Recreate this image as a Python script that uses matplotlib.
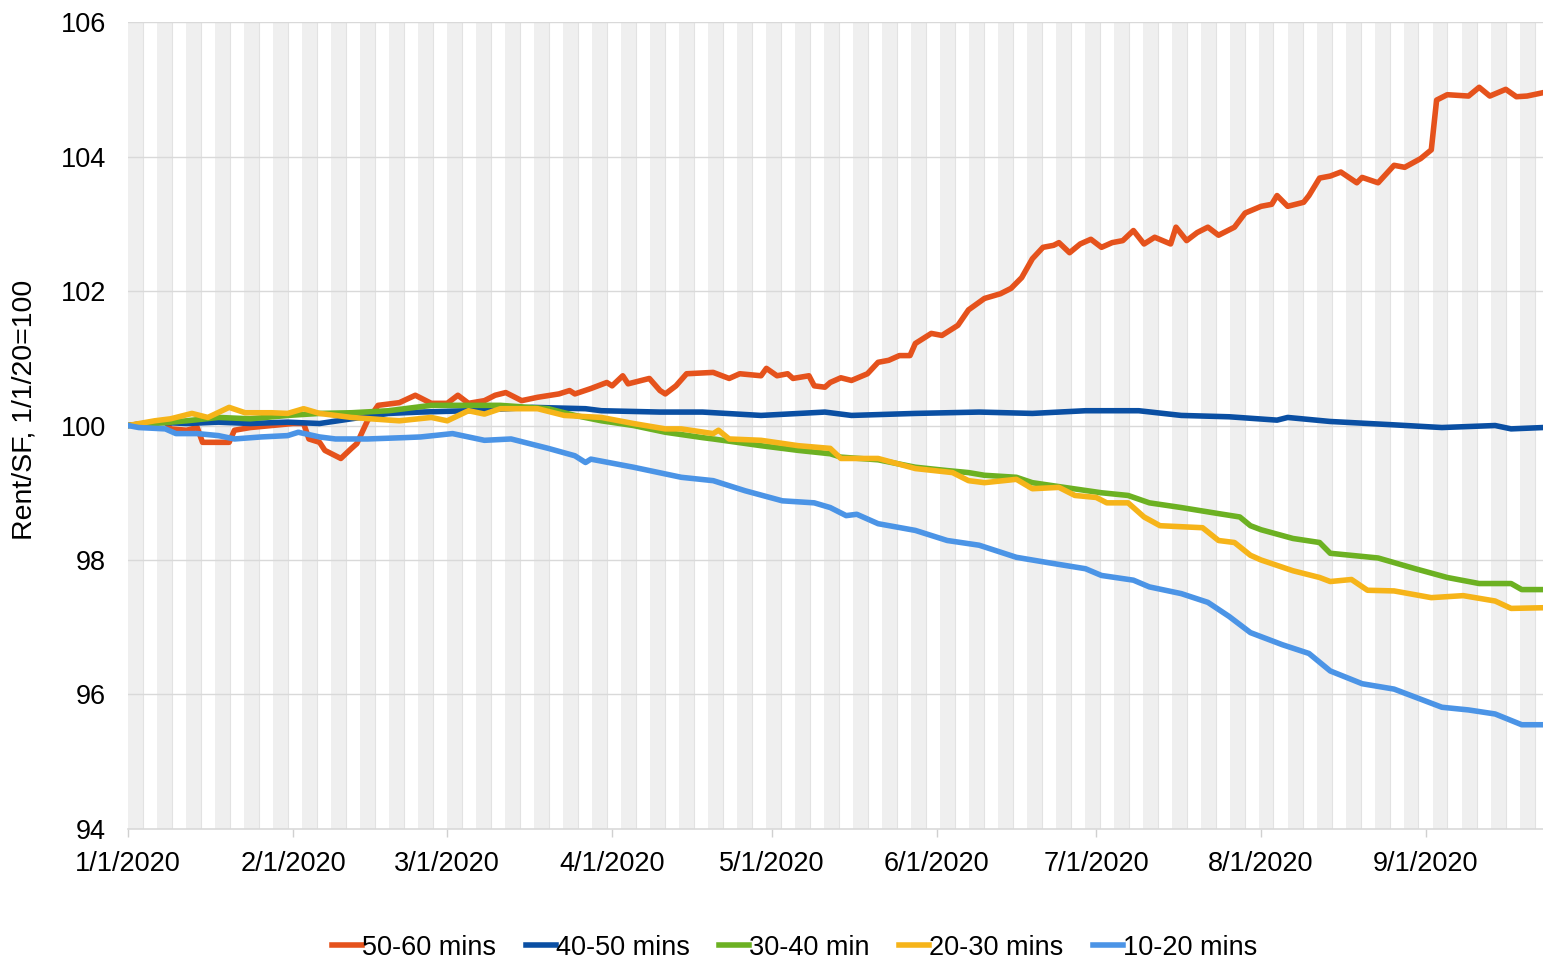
import numpy as np
import matplotlib
matplotlib.use("Agg")
import matplotlib.pyplot as plt
import matplotlib.dates as mdates

plt.rcParams['font.family'] = ['Liberation Sans', 'DejaVu Sans']

# day offsets from 1/1/2020 and index values
d_5060 = [0, 7, 8, 11, 13, 14, 19, 20, 23, 27, 31, 33, 34, 36, 37, 40, 42, 43, 45, 47, 51, 54,
          57, 60, 62, 64, 67, 69, 71, 74, 77, 81, 83, 84, 87, 90, 91, 93, 94, 98, 100, 101, 103,
          105, 110, 113, 115, 119, 120, 122, 124, 125, 128, 129, 131, 132, 134, 136, 139, 141,
          143, 145, 147, 148, 151, 153, 156, 158, 161, 164, 166, 168, 170, 172, 174, 175, 177,
          179, 181, 183, 185, 187, 189, 191, 193, 196, 197, 199, 201, 203, 205, 208, 210, 213,
          215, 216, 218, 221, 222, 224, 226, 228, 231, 232, 235, 238, 240, 243, 245, 246, 248,
          252, 254, 256, 259, 261, 263, 266]
v_5060 = [100.0, 100.07, 99.95, 99.93, 99.97, 99.75, 99.75, 99.93, 99.97, 100.0, 100.03, 100.03,
          99.8, 99.75, 99.63, 99.51, 99.66, 99.73, 100.07, 100.3, 100.34, 100.45, 100.33, 100.33,
          100.45, 100.33, 100.37, 100.45, 100.49, 100.37, 100.42, 100.47, 100.52, 100.47, 100.55,
          100.64, 100.59, 100.74, 100.62, 100.7, 100.52, 100.47, 100.59, 100.77, 100.79, 100.7,
          100.77, 100.74, 100.85, 100.74, 100.77, 100.7, 100.74, 100.59, 100.57, 100.64, 100.71,
          100.67, 100.77, 100.94, 100.97, 101.04, 101.04, 101.22, 101.37, 101.34, 101.49, 101.72,
          101.89, 101.96, 102.04, 102.2, 102.48, 102.65, 102.68, 102.72, 102.57, 102.7, 102.77,
          102.65, 102.72, 102.75, 102.9, 102.7, 102.8, 102.7, 102.95, 102.75, 102.87, 102.95,
          102.83, 102.95, 103.16, 103.26, 103.29, 103.42, 103.26, 103.32, 103.42, 103.68, 103.71,
          103.77, 103.61, 103.69, 103.61, 103.87, 103.84, 103.97, 104.1, 104.84, 104.92, 104.9,
          105.03, 104.9, 105.0, 104.89, 104.9, 104.95]

d_4050 = [0, 5, 11, 17, 23, 30, 36, 42, 49, 55, 64, 76, 86, 89, 100, 108, 119, 131, 136, 148,
          160, 170, 180, 190, 198, 207, 216, 218, 226, 238, 247, 257, 260, 266]
v_4050 = [100.0, 100.05, 100.03, 100.05, 100.03, 100.05, 100.03, 100.1, 100.18, 100.2, 100.22,
          100.27, 100.25, 100.22, 100.2, 100.2, 100.15, 100.2, 100.15, 100.18, 100.2, 100.18,
          100.22, 100.22, 100.15, 100.13, 100.08, 100.12, 100.06, 100.01, 99.97, 100.0, 99.95,
          99.97]

d_3040 = [0, 5, 11, 17, 23, 30, 36, 42, 49, 57, 70, 79, 84, 89, 95, 101, 108, 110, 119, 126,
          132, 134, 141, 148, 154, 158, 161, 167, 170, 176, 183, 188, 192, 198, 205, 209, 211,
          213, 219, 224, 226, 235, 242, 248, 254, 260, 262, 266]
v_3040 = [100.0, 100.03, 100.07, 100.12, 100.1, 100.15, 100.18, 100.19, 100.22, 100.3, 100.3,
          100.25, 100.15, 100.07, 100.0, 99.9, 99.82, 99.8, 99.7, 99.63, 99.58, 99.53, 99.49,
          99.38, 99.33, 99.3, 99.26, 99.23, 99.15, 99.08, 99.0, 98.96, 98.85, 98.78, 98.69, 98.64,
          98.51, 98.45, 98.32, 98.26, 98.1, 98.03, 97.87, 97.74, 97.65, 97.65, 97.56, 97.56]

d_2030 = [0, 5, 8, 12, 15, 19, 22, 27, 30, 33, 36, 42, 51, 57, 60, 64, 67, 70, 77, 82, 89, 95,
          101, 104, 110, 111, 113, 119, 126, 132, 134, 141, 148, 155, 158, 161, 167, 170, 175,
          178, 182, 184, 188, 191, 194, 202, 205, 208, 211, 213, 219, 224, 226, 230, 233, 238,
          245, 251, 257, 260, 266]
v_2030 = [100.0, 100.07, 100.1, 100.18, 100.12, 100.27, 100.19, 100.19, 100.18, 100.25, 100.18,
          100.12, 100.07, 100.12, 100.07, 100.22, 100.17, 100.25, 100.25, 100.15, 100.12, 100.03,
          99.95, 99.95, 99.88, 99.93, 99.8, 99.78, 99.7, 99.66, 99.51, 99.51, 99.36, 99.3, 99.18,
          99.15, 99.2, 99.06, 99.08, 98.96, 98.93, 98.85, 98.85, 98.64, 98.51, 98.48, 98.29, 98.26,
          98.07, 98.0, 97.84, 97.74, 97.68, 97.71, 97.55, 97.54, 97.44, 97.47, 97.39, 97.28, 97.29]

d_1020 = [0, 2, 7, 9, 13, 17, 20, 25, 30, 32, 36, 39, 45, 52, 55, 61, 67, 72, 79, 84, 86, 87,
          95, 101, 104, 110, 116, 123, 129, 132, 135, 137, 141, 148, 154, 160, 167, 173, 180, 183,
          189, 192, 198, 203, 207, 211, 217, 222, 226, 232, 238, 247, 252, 257, 262, 266]
v_1020 = [100.0, 99.97, 99.95, 99.88, 99.88, 99.85, 99.8, 99.83, 99.85, 99.9, 99.83, 99.8, 99.8,
          99.82, 99.83, 99.88, 99.78, 99.8, 99.66, 99.55, 99.45, 99.5, 99.38, 99.28, 99.23, 99.18,
          99.03, 98.88, 98.85, 98.78, 98.66, 98.68, 98.54, 98.44, 98.29, 98.22, 98.04, 97.96,
          97.87, 97.77, 97.7, 97.6, 97.5, 97.37, 97.16, 96.92, 96.74, 96.61, 96.35, 96.16, 96.08,
          95.81, 95.77, 95.71, 95.55, 95.55]

labels = ['50-60 mins', '40-50 mins', '30-40 min', '20-30 mins', '10-20 mins']
colors = ['#E5521C', '#0A4FA3', '#6CB122', '#F6B419', '#4B94E6']
series = [(d_5060, v_5060), (d_4050, v_4050), (d_3040, v_3040), (d_2030, v_2030), (d_1020, v_1020)]

start = np.datetime64('2020-01-01')
end = np.datetime64('2020-09-23')

fig = plt.figure(figsize=(15.43, 9.6), dpi=100)
ax = fig.add_axes([0.083, 0.1365, 0.917, 0.8405])

# background stripes
step = 5.45
for s in np.arange(0, 270, step):
    a = start + np.timedelta64(int(round(s * 24)), 'h')
    b = start + np.timedelta64(int(round((s + 2.8) * 24)), 'h')
    ax.axvspan(a, b, color='#efefef', lw=0, zorder=0)
    ax.axvline(b, color='#e2e2e2', lw=0.8, zorder=0)

for y in range(96, 107, 2):
    ax.axhline(y, color='#d9d9d9', lw=1.0, zorder=1)

for (d, v), lab, c in zip(series, labels, colors):
    x = start + np.array(d).astype('timedelta64[D]')
    ax.plot(x, v, color=c, lw=4.0, label=lab, zorder=3, solid_joinstyle='round')

ax.set_xlim(start, end)
ax.set_ylim(94, 106)
ax.set_yticks(range(94, 107, 2))
ax.xaxis.set_major_locator(mdates.MonthLocator())
ax.xaxis.set_major_formatter(plt.FuncFormatter(
    lambda v, p: (lambda d: f"{d.month}/{d.day}/{d.year}")(mdates.num2date(v))))

for sp in ['top', 'right', 'left']:
    ax.spines[sp].set_visible(False)
ax.spines['bottom'].set_color('#d9d9d9')
ax.spines['bottom'].set_linewidth(1.2)
ax.tick_params(axis='y', length=0, pad=16, labelsize=19.5, colors='#000000')
ax.tick_params(axis='x', length=6, width=1, color='#d0d0d0', pad=10, labelsize=19.5)

ax.set_ylabel('Rent/SF, 1/1/20=100', fontsize=20.5)
ax.yaxis.set_label_coords(-0.064, 0.52)

fig.legend(loc='lower center', bbox_to_anchor=(0.515, -0.026), ncol=5, frameon=False,
           fontsize=19.5, handlelength=1.1, handletextpad=0.0, columnspacing=1.1)

fig.savefig('out.png', dpi=100)
